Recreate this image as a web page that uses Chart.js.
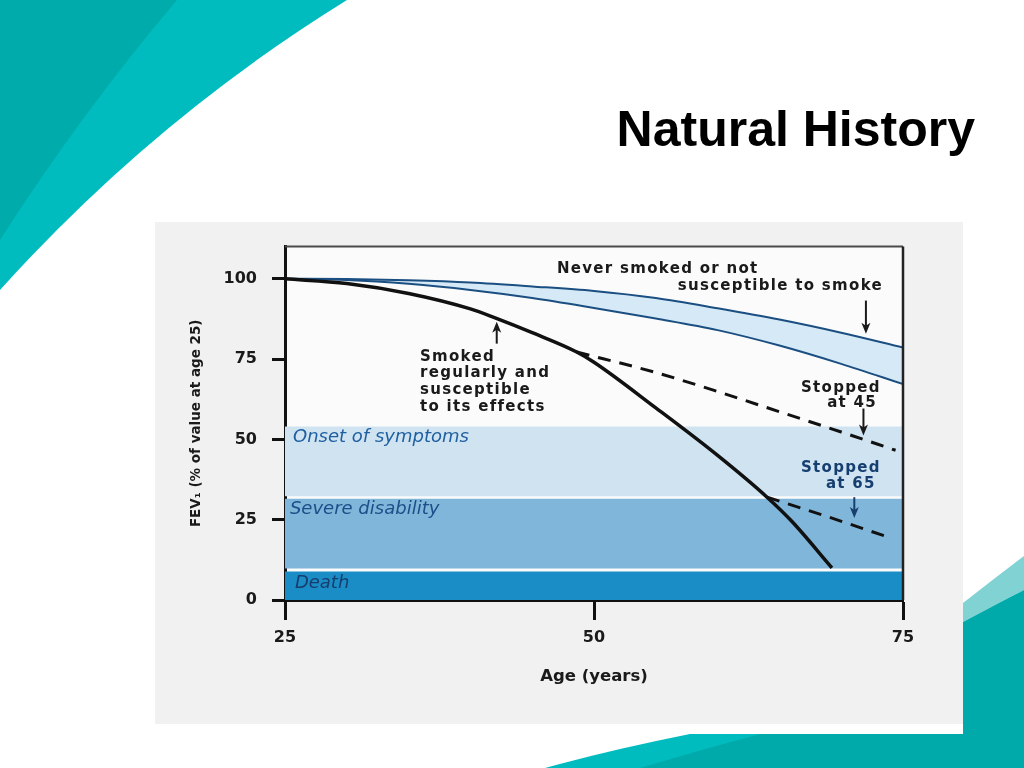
<!DOCTYPE html>
<html lang="en">
<head>
<meta charset="UTF-8">
<title>Natural History</title>
<script src="https://cdn.jsdelivr.net/npm/chart.js"></script>
<style>
    html, body { margin: 0; padding: 0; }
    body { width: 1024px; height: 768px; position: relative; overflow: hidden; background: #fff; }
    #deco { position: absolute; left: 0; top: 0; }
    h1 {
        position: absolute; right: 49px; top: 104px; margin: 0;
        font-family: "Liberation Sans", Arial, sans-serif; font-size: 50px; line-height: 50px;
        font-weight: bold; color: #000; white-space: nowrap;
    }
    .chart-box { position: absolute; left: 155px; top: 222px; width: 808px; height: 502px; background: #f1f1f1; }
</style>
</head>
<body>
<svg id="deco" width="1024" height="768">
    <path d="M0,0 L347,0 Q153,120 0,290 Z" fill="#00bcbf"/>
    <path d="M0,0 L177,0 Q82,112 0,240 Z" fill="#00abab"/>
    <path d="M963,603 Q995,578 1024,556 L1024,590 Q995,605 963,622 Z" fill="#80d2d3"/>
    <path d="M963,622 Q995,605 1024,590 L1024,768 L963,768 Z" fill="#00aaaa"/>
    <path d="M545,768 Q610,750 690,734 L1024,734 L1024,768 Z" fill="#00bcbf"/>
    <path d="M640,768 Q700,750 760,734 L1024,734 L1024,768 Z" fill="#00aaaa"/>
</svg>

<h1>Natural History</h1>

<div class="chart-box">
    <canvas id="fevChart" width="808" height="502"></canvas>
</div>

<script>
    // FEV1 (% of value at age 25) against age
    const neverAge = [25, 30, 35, 40, 45, 50, 55, 60, 65, 70, 75];
    const neverUpper = [100, 99.9, 99.5, 98.8, 97.6, 96.2, 94.0, 90.8, 87.3, 83.2, 78.6];
    const neverLower = [100, 99.6, 98.4, 96.5, 94.0, 90.9, 87.6, 84.0, 79.2, 73.5, 67.2];

    const smokerAge = [25, 30, 35, 40, 42, 45, 48.6, 50, 55, 60, 64, 66, 69.25];
    const smokerFev = [100, 98.5, 95.4, 90.6, 87.8, 83.2, 77.2, 74.0, 59.8, 45.0, 32.0, 24.5, 10.0];

    const stop45Age = [48.6, 55, 60, 65, 70, 74.4];
    const stop45Fev = [77.2, 70.8, 64.9, 58.6, 52.3, 46.6];

    const stop65Age = [64, 69, 74];
    const stop65Fev = [32.0, 25.8, 19.3];

    const bandNames = ['Onset of symptoms', 'Severe disability', 'Death'];
    const bandTop = [54.0, 31.5, 8.9];
    const bandBottom = [32.3, 9.8, 0];
    const bandColors = ['#cfe3f1', '#80b6d9', '#1a8cc6'];
    const bandTextColors = ['#1f5fa0', '#1b4f8a', '#173e6e'];

    const xTicks = [25, 50, 75];
    const yTicks = [0, 25, 50, 75, 100];

    // annotations, anchored in data units (age, FEV1)
    const notes = [
        { text: 'Never smoked or not', age: 47.0, fev: 103.1, align: 'left', color: '#1a1a1a' },
        { text: 'susceptible to smoke', age: 73.38, fev: 97.8, align: 'right', color: '#1a1a1a' },
        { text: 'Smoked', age: 35.92, fev: 75.6, align: 'left', color: '#1a1a1a' },
        { text: 'regularly and', age: 35.92, fev: 70.5, align: 'left', color: '#1a1a1a' },
        { text: 'susceptible', age: 35.92, fev: 65.2, align: 'left', color: '#1a1a1a' },
        { text: 'to its effects', age: 35.92, fev: 60.0, align: 'left', color: '#1a1a1a' },
        { text: 'Stopped', age: 73.2, fev: 65.8, align: 'right', color: '#1a1a1a' },
        { text: 'at 45', age: 72.9, fev: 61.2, align: 'right', color: '#1a1a1a' },
        { text: 'Stopped', age: 73.2, fev: 41.0, align: 'right', color: '#163f70' },
        { text: 'at 65', age: 72.8, fev: 36.0, align: 'right', color: '#163f70' }
    ];
    const bandLabelPos = [[25.65, 50.7], [25.4, 28.3], [25.8, 5.3]];
    const arrows = [
        { age: 72.0, from: 93.2, to: 82.9, color: '#1a1a1a' },
        { age: 42.13, from: 79.8, to: 86.6, color: '#1a1a1a' },
        { age: 71.8, from: 59.6, to: 51.2, color: '#1a1a1a' },
        { age: 71.06, from: 32.0, to: 25.5, color: '#163f70' }
    ];

    const pts = (xs, ys) => xs.map((x, i) => ({ x: x, y: ys[i] }));

    const datasets = [
        { data: pts(neverAge, neverUpper), borderColor: '#1b4f82', borderWidth: 2,
          backgroundColor: '#d5e9f6', fill: '+1', order: 3 },
        { data: pts(neverAge, neverLower), borderColor: '#1b4f82', borderWidth: 2, fill: false, order: 3 },
        { data: pts(smokerAge, smokerFev), borderColor: '#111', borderWidth: 3.5, fill: false, order: 0 },
        { data: pts(stop45Age, stop45Fev), borderColor: '#111', borderWidth: 3, borderDash: [13, 9], fill: false, order: 1 },
        { data: pts(stop65Age, stop65Fev), borderColor: '#111', borderWidth: 3, borderDash: [13, 9], fill: false, order: 1 }
    ];
    bandNames.forEach((name, i) => {
        datasets.push({
            label: name,
            data: [{ x: 25, y: bandTop[i] }, { x: 75, y: bandTop[i] }],
            borderWidth: 0, borderColor: 'rgba(0,0,0,0)',
            backgroundColor: bandColors[i], fill: { value: bandBottom[i] }, order: 5
        });
    });

    function drawArrow(ctx, x, y1, y2, color) {
        const dir = Math.sign(y2 - y1);
        ctx.strokeStyle = color;
        ctx.fillStyle = color;
        ctx.lineWidth = 2;
        ctx.beginPath();
        ctx.moveTo(x, y1);
        ctx.lineTo(x, y2 - dir * 6);
        ctx.stroke();
        ctx.beginPath();
        ctx.moveTo(x, y2);
        ctx.lineTo(x - 4.5, y2 - dir * 11);
        ctx.lineTo(x, y2 - dir * 8);
        ctx.lineTo(x + 4.5, y2 - dir * 11);
        ctx.closePath();
        ctx.fill();
    }

    const figurePlugin = {
        id: 'figure',
        beforeDraw(chart) {
            const { ctx, chartArea: a } = chart;
            ctx.save();
            ctx.fillStyle = '#fbfbfb';
            ctx.fillRect(a.left, a.top, a.right - a.left, a.bottom - a.top);
            ctx.restore();
        },
        afterDraw(chart) {
            const { ctx, chartArea: a, scales: { x, y } } = chart;
            ctx.save();
            // frame top and right
            ctx.strokeStyle = '#4a4a4a';
            ctx.lineWidth = 2;
            ctx.beginPath();
            ctx.moveTo(a.left, a.top);
            ctx.lineTo(a.right, a.top);
            ctx.stroke();
            ctx.strokeStyle = '#222';
            ctx.lineWidth = 2.5;
            ctx.beginPath();
            ctx.moveTo(a.right, a.top);
            ctx.lineTo(a.right, a.bottom);
            ctx.stroke();

            // band labels
            ctx.font = 'oblique 18px "DejaVu Sans"';
            ctx.textBaseline = 'middle';
            ctx.textAlign = 'left';
            bandNames.forEach((name, i) => {
                ctx.fillStyle = bandTextColors[i];
                ctx.fillText(name, x.getPixelForValue(bandLabelPos[i][0]), y.getPixelForValue(bandLabelPos[i][1]));
            });

            // curve notes
            ctx.font = 'bold 15px "DejaVu Sans"';
            ctx.letterSpacing = '1.3px';
            notes.forEach(n => {
                ctx.fillStyle = n.color;
                ctx.textAlign = n.align;
                ctx.fillText(n.text, x.getPixelForValue(n.age), y.getPixelForValue(n.fev));
            });
            ctx.letterSpacing = '0px';

            arrows.forEach(ar => {
                drawArrow(ctx, x.getPixelForValue(ar.age), y.getPixelForValue(ar.from), y.getPixelForValue(ar.to), ar.color);
            });
            ctx.restore();
        }
    };

    new Chart(document.getElementById('fevChart'), {
        type: 'line',
        data: { datasets: datasets },
        options: {
            responsive: false,
            animation: false,
            layout: { padding: { top: 23, right: 60, bottom: 0, left: 0 } },
            elements: {
                point: { radius: 0, hoverRadius: 0 },
                line: { cubicInterpolationMode: 'monotone', borderCapStyle: 'butt' }
            },
            plugins: {
                legend: { display: false },
                tooltip: { enabled: false },
                filler: { drawTime: 'beforeDatasetsDraw' }
            },
            scales: {
                x: {
                    type: 'linear', min: 25, max: 75, z: 1,
                    afterBuildTicks: s => { s.ticks = xTicks.map(v => ({ value: v })); },
                    afterFit: s => { s.height = 124; },
                    ticks: { color: '#1a1a1a', padding: 8, font: { family: 'DejaVu Sans', weight: 'bold', size: 16 } },
                    grid: { drawOnChartArea: false, drawTicks: true, tickLength: 20, tickWidth: 3, tickColor: '#111' },
                    border: { display: true, color: '#111', width: 3 },
                    title: { display: true, text: 'Age (years)', color: '#1a1a1a', padding: { top: 0, bottom: 37 },
                             font: { family: 'DejaVu Sans', weight: 'bold', size: 16.5 } }
                },
                y: {
                    type: 'linear', min: 0, max: 110, z: 1,
                    afterBuildTicks: s => { s.ticks = yTicks.map(v => ({ value: v })); },
                    afterFit: s => { s.width = 130; },
                    ticks: { color: '#1a1a1a', padding: 15, font: { family: 'DejaVu Sans', weight: 'bold', size: 16 } },
                    grid: { drawOnChartArea: false, drawTicks: true, tickLength: 13, tickWidth: 3, tickColor: '#111' },
                    border: { display: true, color: '#111', width: 3 },
                    title: { display: true, text: 'FEV\u2081 (% of value at age 25)', color: '#1a1a1a',
                             padding: { top: 33, bottom: 0 },
                             font: { family: 'DejaVu Sans', weight: 'bold', size: 13.5 } }
                }
            }
        },
        plugins: [figurePlugin]
    });
</script>
</body>
</html>
